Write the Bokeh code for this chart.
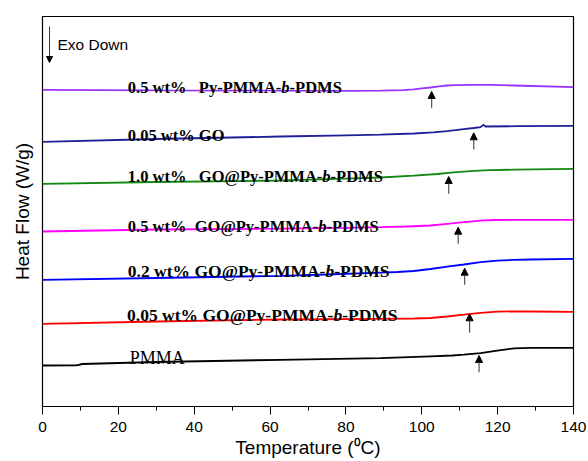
from bokeh.plotting import figure
from bokeh.models import Range1d, Arrow, NormalHead, ColumnDataSource, FixedTicker
from bokeh.core.properties import value
from bokeh.embed import file_html
from bokeh.resources import INLINE

# ---------------- data ----------------
# Temperature (°C) / heat flow (arbitrary units, exo down)
t_purple = [0, 30, 60, 80, 89.1, 95, 97.9, 100, 102.3, 104.5, 106.7, 109, 113.7, 118, 124.3, 140]
hf_purple = [316.7, 316.2, 315.8, 315.7, 315.9, 316.3, 317.2, 318.1, 319.0, 320.1, 321.0, 321.4, 321.7, 321.7, 321.0, 319.3]

t_navy = [0, 30, 62.7, 80, 89.1, 97.9, 103, 106.7, 111.1, 113.7, 115.5, 116.2, 116.8, 125, 140]
hf_navy = [264.7, 267.5, 270.0, 271.1, 271.8, 273.0, 274.2, 275.3, 277.4, 278.5, 279.3, 281.7, 280.0, 280.3, 280.7]

t_green = [0, 30, 62.7, 80, 89.1, 97.9, 104.1, 108.4, 113.7, 118, 124.3, 140]
hf_green = [222.7, 224.5, 226.0, 227.8, 229.0, 230.8, 232.5, 234.2, 235.7, 236.4, 236.8, 237.7]

t_magenta = [0, 30, 62.7, 80, 89.1, 96, 102.3, 106.7, 111.1, 115.5, 119, 124.3, 140]
hf_magenta = [175.0, 177.0, 177.8, 178.7, 179.3, 180.0, 181.0, 182.7, 184.3, 185.8, 186.5, 186.7, 186.7]

t_blue = [0, 30, 62.7, 75, 89.1, 93.5, 97.9, 102.3, 106.7, 111.1, 115.5, 119.9, 124, 128.7, 140]
hf_blue = [126.7, 128.5, 130.7, 132.0, 133.9, 134.5, 135.5, 137.5, 139.8, 142.0, 144.3, 145.9, 146.6, 147.0, 147.7]

t_red = [0, 30, 62.7, 89.1, 98, 102.3, 106.7, 111.1, 115.5, 119.9, 124, 128.7, 140]
hf_red = [82.7, 85.0, 87.0, 87.7, 88.0, 88.5, 90.0, 91.8, 93.7, 94.8, 95.1, 95.0, 94.7]

t_black = [0, 9, 10.5, 30, 62.7, 89.1, 102.3, 108, 111.1, 115.5, 119.9, 124.3, 128.7, 140]
hf_black = [41.0, 41.2, 42.5, 44.5, 46.7, 48.3, 50.2, 51.0, 51.8, 53.3, 55.9, 58.1, 58.7, 58.7]

series_t = [t_purple, t_navy, t_green, t_magenta, t_blue, t_red, t_black]
series_hf = [hf_purple, hf_navy, hf_green, hf_magenta, hf_blue, hf_red, hf_black]
series_colors = ["#9933FF", "#1F1F99", "#118811", "#FF00FF", "#0000FF", "#FF0000", "#000000"]

# Tg arrows
tg_t = [102.6, 113.7, 107.1, 109.6, 111.3, 112.6, 115.1]
tg_head = [315.0, 273.7, 230.0, 179.3, 138.3, 92.7, 51.0]
tg_tail = [298.3, 257.0, 212.7, 162.7, 121.7, 73.7, 34.3]

# curve labels: parts (text, style)
label_parts = [
    [("0.5 wt%", "bold"), ("   ", "bold"), ("Py-PMMA-", "bold"), ("b", "bold italic"), ("-PDMS", "bold")],
    [("0.05 wt% GO", "bold")],
    [("1.0 wt%", "bold"), ("   ", "bold"), ("GO@Py-PMMA-", "bold"), ("b", "bold italic"), ("-PDMS", "bold")],
    [("0.5 wt%", "bold"), ("  ", "bold"), ("GO@Py-PMMA-", "bold"), ("b", "bold italic"), ("-PDMS", "bold")],
    [("0.2 wt% GO@Py-PMMA-", "bold"), ("b", "bold italic"), ("-PDMS", "bold")],
    [("0.05 wt% GO@Py-PMMA-", "bold"), ("b", "bold italic"), ("-PDMS", "bold")],
    [("PMMA", "normal")],
]
label_t = [22.5, 22.5, 22.5, 22.5, 22.5, 22.3, 23.0]
label_hf = [318.7, 271.0, 230.0, 180.3, 135.3, 92.0, 48.7]
label_size = [16.5, 16.5, 16.5, 16.5, 17.5, 17.5, 18.0]

x_ticks = [0, 20, 40, 60, 80, 100, 120, 140]
x_minor = [10, 30, 50, 70, 90, 110, 130]

# ---------------- figure ----------------
p = figure(width=588, height=461, output_backend="svg", toolbar_location=None,
           x_range=Range1d(0, 140), y_range=Range1d(0, 390),
           min_border_left=42, min_border_right=15, min_border_top=16, min_border_bottom=55)
p.xgrid.visible = False
p.ygrid.visible = False
p.outline_line_color = "black"
p.outline_line_width = 1.2
p.background_fill_color = "white"
p.border_fill_color = "white"

xa = p.xaxis[0]
xa.ticker = FixedTicker(ticks=x_ticks, minor_ticks=x_minor)
xa.major_tick_out = 8
xa.major_tick_in = 0
xa.minor_tick_out = 4
xa.minor_tick_in = 0
xa.axis_line_color = "black"
xa.major_tick_line_color = "black"
xa.minor_tick_line_color = "black"
xa.major_label_text_font = "Liberation Sans"
xa.major_label_text_font_size = "15.5px"
xa.major_label_text_color = "black"
xa.major_label_standoff = 7
xa.axis_label = "Temperature (\u2070C)"
xa.axis_label_text_font = "Liberation Sans"
xa.axis_label_text_font_style = "normal"
xa.axis_label_text_font_size = "19px"
xa.axis_label_text_color = "black"
xa.axis_label_standoff = 2

ya = p.yaxis[0]
ya.ticker = FixedTicker(ticks=[])
ya.major_tick_out = 0
ya.major_tick_in = 0
ya.minor_tick_out = 0
ya.minor_tick_in = 0
ya.axis_line_color = "black"
ya.axis_label = "Heat Flow (W/g)"
ya.axis_label_text_font = "Liberation Sans"
ya.axis_label_text_font_style = "normal"
ya.axis_label_text_font_size = "19px"
ya.axis_label_text_color = "black"
ya.axis_label_standoff = 10

# curves
for t, hf, c in zip(series_t, series_hf, series_colors):
    p.line(t, hf, line_color=c, line_width=1.8)

# Tg arrows
src = ColumnDataSource(dict(x=tg_t, y0=tg_tail, y1=tg_head))
p.add_layout(Arrow(end=NormalHead(size=7, fill_color="black", line_color="black", line_width=1),
                   x_start="x", y_start="y0", x_end="x", y_end="y1", source=src,
                   line_color="#555555", line_width=1.2))

# Exo Down indicator
p.add_layout(Arrow(end=NormalHead(size=6, fill_color="black", line_color="black", line_width=1),
                   x_start=1.85, y_start=380, x_end=1.85, y_end=344,
                   line_color="#333333", line_width=1))
p.text(x=[3.95], y=[361.7], text=["Exo Down"], text_font=value("Liberation Sans"),
       text_font_size=value("15.5px"), text_color="black", text_baseline="alphabetic")

# Times Bold advance widths (per 1000 em)
W = {'0': 500, '1': 500, '2': 500, '5': 500, '.': 250, ' ': 250, 'w': 722, 't': 333, '%': 1000,
     'P': 611, 'y': 500, '-': 333, 'M': 944, 'A': 722, 'G': 778, 'O': 778, '@': 930,
     'D': 722, 'S': 556, 'b': 500}

for parts, tx, hy, sz in zip(label_parts, label_t, label_hf, label_size):
    off = 0.0
    for txt, style in parts:
        if txt.strip():
            p.text(x=[tx], y=[hy], text=[txt], x_offset=[off],
                   text_font=value("Liberation Serif"), text_font_style=style,
                   text_font_size=value(f"{sz}px"), text_color="black",
                   text_baseline="alphabetic", text_align="left")
        off += sum(W.get(ch, 500) for ch in txt) / 1000.0 * sz

open("out.html", "w").write(file_html(p, INLINE))
